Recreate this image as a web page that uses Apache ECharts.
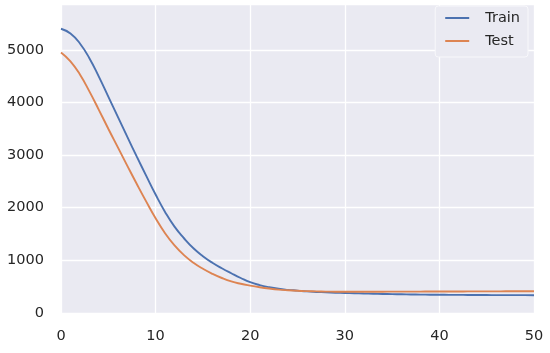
<!DOCTYPE html>
<html>
<head>
<meta charset="utf-8">
<script src="https://cdn.jsdelivr.net/npm/echarts@6/dist/echarts.min.js"></script>
<style>
    html, body { margin: 0; padding: 0; background: #fff; }
    #chart { width: 550px; height: 353px; }
</style>
</head>
<body>
<div id="chart"></div>
<script>
// loss per epoch (epoch = index)
var seriesNames = ['Train', 'Test'];
var trainLoss = [
    5400, 5310, 5120, 4840, 4490, 4110, 3730, 3350, 2975, 2610,
    2250, 1920, 1640, 1420, 1230, 1080, 955, 850, 755, 665,
    585, 530, 490, 460, 440, 425, 410, 400, 392, 385,
    380, 375, 370, 366, 362, 358, 355, 352, 350, 348,
    346, 345, 344, 343, 342, 341, 340, 340, 339, 339, 338
];
var testLoss = [
    4950, 4780, 4530, 4210, 3860, 3500, 3150, 2800, 2455, 2120,
    1800, 1515, 1285, 1100, 955, 840, 745, 665, 600, 555,
    520, 490, 465, 445, 432, 422, 415, 410, 407, 405,
    404, 404, 404, 405, 405, 406, 406, 407, 407, 408,
    408, 409, 409, 410, 410, 411, 411, 412, 412, 413, 414
];
var xTicks = [0, 10, 20, 30, 40, 50];
var yTicks = [0, 1000, 2000, 3000, 4000, 5000];

var colors = ['#4C72B0', '#DD8452'];
var textColor = '#262626';
var fontFamily = 'DejaVu Sans';

var toPoints = function (arr) {
    return arr.map(function (v, i) { return [i, v]; });
};

var chart = echarts.init(document.getElementById('chart'));
var option = {
    animation: false,
    backgroundColor: '#ffffff',
    grid: {
        left: 61, right: 16, top: 4, bottom: 40,
        show: true,
        backgroundColor: '#EAEAF2',
        borderWidth: 0
    },
    legend: {
        orient: 'vertical',
        right: 22,
        top: 6,
        data: seriesNames,
        icon: 'rect',
        itemWidth: 24,
        itemHeight: 2,
        itemGap: 7,
        padding: [4, 8, 8, 10],
        backgroundColor: '#EAEAF2',
        borderColor: '#F8F8FB',
        borderWidth: 1,
        borderRadius: 3,
        textStyle: {
            color: textColor,
            fontFamily: fontFamily,
            fontSize: 14.5,
            lineHeight: 16,
            padding: [0, 0, 0, 11]
        }
    },
    xAxis: {
        type: 'value',
        min: xTicks[0],
        max: xTicks[xTicks.length - 1],
        interval: 10,
        axisLine: { show: false },
        axisTick: { show: false },
        axisLabel: {
            color: textColor,
            fontFamily: fontFamily,
            fontSize: 14.5,
            margin: 16
        },
        splitLine: { show: true, lineStyle: { color: '#ffffff', width: 1.3 } }
    },
    yAxis: {
        type: 'value',
        min: 0,
        max: 5870,
        interval: 1000,
        axisLine: { show: false },
        axisTick: { show: false },
        axisLabel: {
            color: textColor,
            fontFamily: fontFamily,
            fontSize: 14.5,
            margin: 17,
            formatter: function (v) {
                return yTicks.indexOf(v) >= 0 ? String(v) : '';
            }
        },
        splitLine: { show: true, lineStyle: { color: '#ffffff', width: 1.3 } }
    },
    series: [
        {
            name: seriesNames[0],
            type: 'line',
            data: toPoints(trainLoss),
            smooth: true,
            showSymbol: false,
            itemStyle: { color: colors[0] },
            lineStyle: { color: colors[0], width: 1.9 }
        },
        {
            name: seriesNames[1],
            type: 'line',
            data: toPoints(testLoss),
            smooth: true,
            showSymbol: false,
            itemStyle: { color: colors[1] },
            lineStyle: { color: colors[1], width: 1.9 }
        }
    ]
};
chart.setOption(option);
</script>
</body>
</html>
